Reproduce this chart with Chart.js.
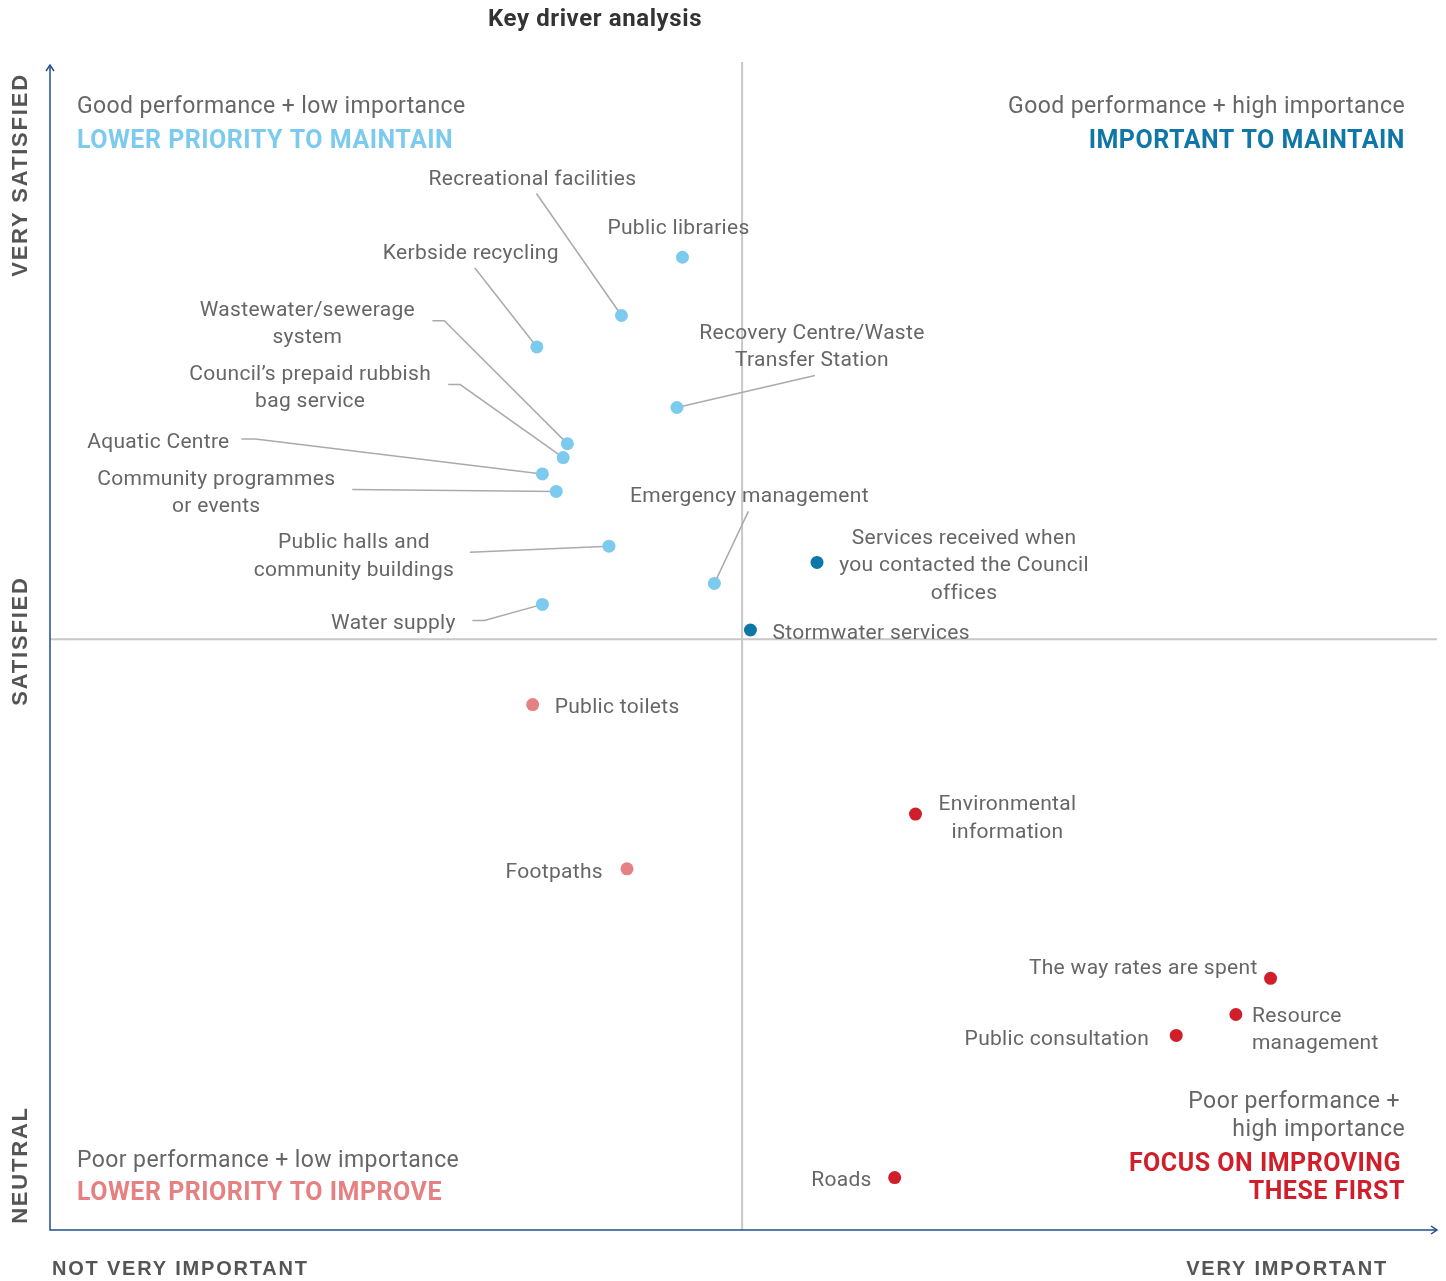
<!DOCTYPE html>
<html>
<head>
<meta charset="utf-8">
<script src="https://cdn.jsdelivr.net/npm/chart.js@4.4.1/dist/chart.umd.min.js"></script>
<style>
  html, body { margin: 0; padding: 0; background: #fff; }
  #wrap { width: 1446px; height: 1281px; position: relative; }
</style>
</head>
<body>
<div id="wrap"><canvas id="kda"></canvas></div>
<script>
// ─── Data (importance = x, satisfaction = y, both on a 0–100 scale) ─────────
const SERVICES = [
  'Public libraries', 'Recreational facilities', 'Kerbside recycling',
  'Wastewater/sewerage system', 'Council\u2019s prepaid rubbish bag service',
  'Aquatic Centre', 'Community programmes or events',
  'Public halls and community buildings', 'Emergency management', 'Water supply',
  'Recovery Centre/Waste Transfer Station',
  'Services received when you contacted the Council offices', 'Stormwater services',
  'Public toilets', 'Footpaths',
  'Environmental information', 'The way rates are spent', 'Resource management',
  'Public consultation', 'Roads'
];
const IMPORTANCE   = [45.6, 41.2, 35.1, 37.3, 37.0, 35.5, 36.5, 40.3, 47.9, 35.5, 45.2,
                      55.3, 50.5, 34.8, 41.6, 62.4, 88.0, 85.5, 81.2, 60.9];
const SATISFACTION = [83.5, 78.5, 75.8, 67.5, 66.3, 64.9, 63.4, 58.7, 55.5, 53.7, 70.6,
                      57.3, 51.5, 45.1, 31.0, 35.7, 21.6, 18.5, 16.7, 4.5];
// quadrant group of each service
const GROUP = ['maintainLow', 'maintainLow', 'maintainLow', 'maintainLow', 'maintainLow',
               'maintainLow', 'maintainLow', 'maintainLow', 'maintainLow', 'maintainLow',
               'maintainLow', 'maintainHigh', 'maintainHigh', 'improveLow', 'improveLow',
               'improveHigh', 'improveHigh', 'improveHigh', 'improveHigh', 'improveHigh'];
const X_MID = 49.9;
const Y_MID = 50.7;

// ─── Look ───────────────────────────────────────────────────────────────────
const COLORS = {
  maintainLow: '#7ccbef',
  maintainHigh: '#0f77a8',
  improveLow: '#e58083',
  improveHigh: '#d01f2a'
};
const TEXT_GREY = '#666666';
const FONT = 'Roboto, "Noto Sans", sans-serif';
const CAPS_FONT = '"Liberation Sans", Arial, sans-serif';

// label placement, pixel offsets from the point (text centre line)
const LABEL_LAYOUT = [
  { dx: -4,   dy: -30,  align: 'center' },
  { dx: -89,  dy: -138, align: 'center', leader: [[-85, -122]] },
  { dx: -66,  dy: -95,  align: 'center', leader: [[-62, -79]] },
  { dx: -260, dy: -135, align: 'center', lines: ['Wastewater/sewerage', 'system'], leader: [[-135, -123], [-123, -123]] },
  { dx: -253, dy: -85,  align: 'center', lines: ['Council\u2019s prepaid rubbish', 'bag service'], leader: [[-115, -73], [-103, -73]] },
  { dx: -384, dy: -33,  align: 'center', leader: [[-301, -35], [-287, -35]] },
  { dx: -340, dy: -14,  align: 'center', lines: ['Community programmes', 'or events'], leader: [[-204, -2]] },
  { dx: -255, dy: -5,   align: 'center', lines: ['Public halls and', 'community buildings'], leader: [[-139, 6]] },
  { dx: 35,   dy: -89,  align: 'center', leader: [[34, -72]] },
  { dx: -149, dy: 17,   align: 'center', leader: [[-70, 16], [-58, 16]] },
  { dx: 135,  dy: -76,  align: 'center', lines: ['Recovery Centre/Waste', 'Transfer Station'], leader: [[138, -32]] },
  { dx: 147,  dy: -26,  align: 'center', lines: ['Services received when', 'you contacted the Council', 'offices'] },
  { dx: 22,   dy: 2,    align: 'left' },
  { dx: 22,   dy: 1,    align: 'left' },
  { dx: -24,  dy: 2,    align: 'right' },
  { dx: 92,   dy: -11,  align: 'center', lines: ['Environmental', 'information'] },
  { dx: -13,  dy: -12,  align: 'right' },
  { dx: 16,   dy: 0,    align: 'left', lines: ['Resource', 'management'] },
  { dx: -27,  dy: 2,    align: 'right' },
  { dx: -23,  dy: 1,    align: 'right' }
];

// ─── Datasets, one per quadrant colour ──────────────────────────────────────
const groupOrder = ['maintainLow', 'maintainHigh', 'improveLow', 'improveHigh'];
const datasets = groupOrder.map(function(g) {
  const pts = [];
  SERVICES.forEach(function(name, i) {
    if (GROUP[i] === g) pts.push({ x: IMPORTANCE[i], y: SATISFACTION[i], idx: i });
  });
  return {
    label: g,
    data: pts,
    backgroundColor: COLORS[g],
    borderWidth: 0,
    pointRadius: 6.5,
    pointHoverRadius: 6.5
  };
});

function pixelOf(chart, i) {
  return [chart.scales.x.getPixelForValue(IMPORTANCE[i]), chart.scales.y.getPixelForValue(SATISFACTION[i])];
}

// ─── Custom drawing: axes, quadrant lines, leaders, labels ──────────────────
const quadrantPlugin = {
  id: 'quadrant',
  beforeDatasetsDraw: function(chart) {
    const ctx = chart.ctx;
    const a = chart.chartArea;
    const xm = chart.scales.x.getPixelForValue(X_MID);
    const ym = chart.scales.y.getPixelForValue(Y_MID);
    ctx.save();

    // quadrant dividers
    ctx.strokeStyle = '#c8c8c8';
    ctx.lineWidth = 2;
    ctx.beginPath();
    ctx.moveTo(xm, a.top - 3);
    ctx.lineTo(xm, a.bottom);
    ctx.moveTo(a.left, ym);
    ctx.lineTo(a.right, ym);
    ctx.stroke();

    // axes with open arrowheads
    ctx.strokeStyle = '#1f4f8f';
    ctx.lineWidth = 1.5;
    ctx.beginPath();
    ctx.moveTo(a.left, a.top);
    ctx.lineTo(a.left, a.bottom);
    ctx.lineTo(a.right, a.bottom);
    ctx.stroke();
    ctx.beginPath();
    ctx.moveTo(a.left - 4, a.top + 6);
    ctx.lineTo(a.left, a.top);
    ctx.lineTo(a.left + 4, a.top + 6);
    ctx.moveTo(a.right - 6, a.bottom - 4);
    ctx.lineTo(a.right, a.bottom);
    ctx.lineTo(a.right - 6, a.bottom + 4);
    ctx.stroke();

    // leader lines
    ctx.strokeStyle = '#aaaaaa';
    ctx.lineWidth = 1.5;
    LABEL_LAYOUT.forEach(function(l, i) {
      if (!l.leader) return;
      const p = pixelOf(chart, i);
      ctx.beginPath();
      l.leader.forEach(function(o, k) {
        if (k === 0) ctx.moveTo(p[0] + o[0], p[1] + o[1]);
        else ctx.lineTo(p[0] + o[0], p[1] + o[1]);
      });
      ctx.lineTo(p[0], p[1]);
      ctx.stroke();
    });
    ctx.restore();
  },
  afterDatasetsDraw: function(chart) {
    const ctx = chart.ctx;
    const a = chart.chartArea;
    ctx.save();
    ctx.textBaseline = 'middle';
    // Roboto sits a touch high with a 'middle' baseline
    ctx.translate(0, 2);

    // point labels
    ctx.font = '21px ' + FONT;
    ctx.letterSpacing = '0.3px';
    ctx.fillStyle = TEXT_GREY;
    LABEL_LAYOUT.forEach(function(l, i) {
      const p = pixelOf(chart, i);
      const lines = l.lines || [SERVICES[i]];
      ctx.textAlign = l.align;
      lines.forEach(function(t, k) {
        ctx.fillText(t, p[0] + l.dx, p[1] + l.dy + k * 27.5);
      });
    });

    // title
    ctx.font = 'bold 24px ' + FONT;
    ctx.letterSpacing = '0.6px';
    ctx.fillStyle = '#333333';
    ctx.textAlign = 'center';
    ctx.fillText('Key driver analysis', 595, 18);

    // quadrant descriptions
    const L = a.left + 27, R = a.right - 32;
    ctx.font = '23px ' + FONT;
    ctx.letterSpacing = '0.4px';
    ctx.fillStyle = TEXT_GREY;
    ctx.textAlign = 'left';
    ctx.fillText('Good performance + low importance', L, 105);
    ctx.fillText('Poor performance + low importance', L, 1159);
    ctx.textAlign = 'right';
    ctx.fillText('Good performance + high importance', R, 105);
    ctx.fillText('Poor performance +', R - 5, 1100);
    ctx.fillText('high importance', R, 1128);

    ctx.font = 'bold 25px ' + FONT;
    ctx.letterSpacing = '0.5px';
    ctx.textAlign = 'left';
    ctx.fillStyle = COLORS.maintainLow;
    ctx.fillText('LOWER PRIORITY TO MAINTAIN', L, 140);
    ctx.fillStyle = COLORS.improveLow;
    ctx.fillText('LOWER PRIORITY TO IMPROVE', L, 1192);
    ctx.textAlign = 'right';
    ctx.fillStyle = COLORS.maintainHigh;
    ctx.fillText('IMPORTANT TO MAINTAIN', R, 140);
    ctx.fillStyle = COLORS.improveHigh;
    ctx.fillText('FOCUS ON IMPROVING', R - 4, 1163);
    ctx.fillText('THESE FIRST', R, 1191);
    ctx.translate(0, -2);

    // axis captions
    ctx.font = 'bold 20px ' + CAPS_FONT;
    ctx.fillStyle = '#555555';
    ctx.letterSpacing = '1.8px';
    ctx.textAlign = 'left';
    ctx.fillText('NOT VERY IMPORTANT', 52, 1269);
    ctx.textAlign = 'right';
    ctx.fillText('VERY IMPORTANT', 1388, 1269);

    ctx.font = 'bold 22px ' + CAPS_FONT;
    ctx.textAlign = 'center';
    [['VERY SATISFIED', 175], ['SATISFIED', 641], ['NEUTRAL', 1165]].forEach(function(c) {
      ctx.save();
      ctx.translate(21, c[1]);
      ctx.rotate(-Math.PI / 2);
      ctx.fillText(c[0], 0, 0);
      ctx.restore();
    });
    ctx.restore();
  }
};

new Chart(document.getElementById('kda').getContext('2d'), {
  type: 'scatter',
  data: { datasets: datasets },
  plugins: [quadrantPlugin],
  options: {
    responsive: true,
    maintainAspectRatio: false,
    animation: false,
    layout: { padding: { left: 50, right: 9, top: 65, bottom: 51 } },
    plugins: { legend: { display: false }, tooltip: { enabled: false }, title: { display: false } },
    scales: {
      x: { type: 'linear', min: 0, max: 100, display: false },
      y: { type: 'linear', min: 0, max: 100, display: false }
    }
  }
});
</script>
</body>
</html>
